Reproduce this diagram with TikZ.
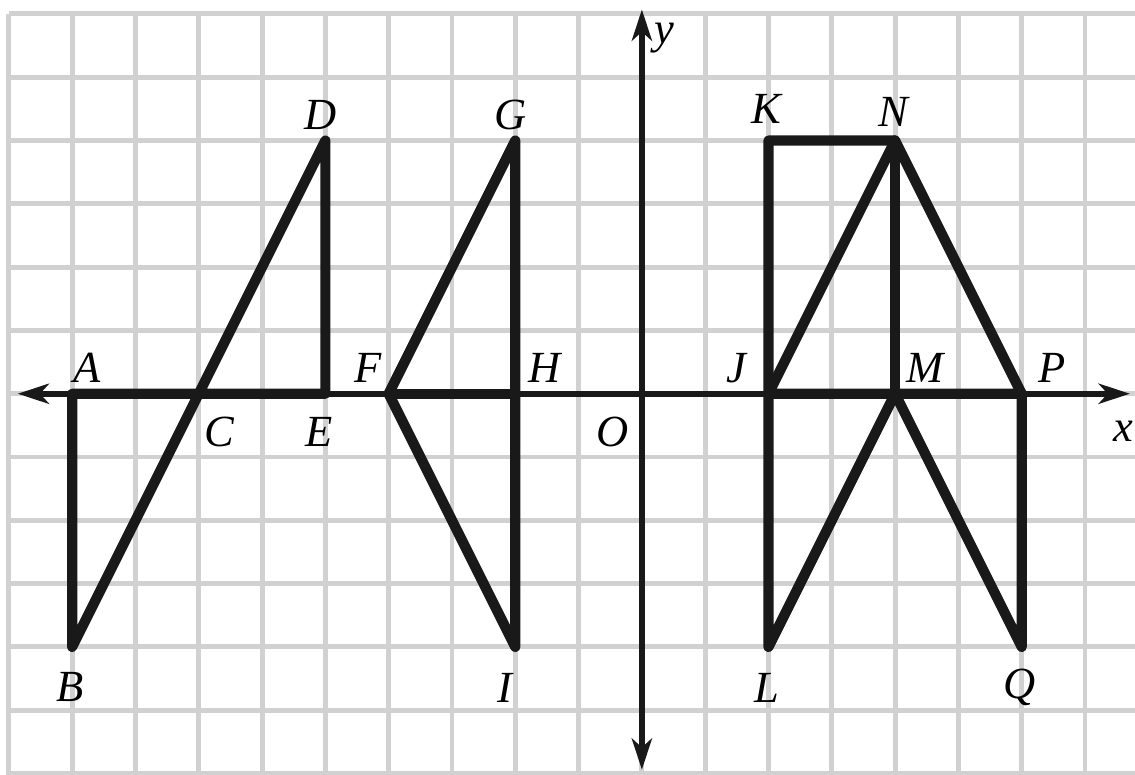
\documentclass[tikz,border=0pt]{standalone}
\usepackage{fontspec}
\setmainfont{Liberation Serif}
\usetikzlibrary{arrows.meta, positioning}

\begin{document}
\begin{tikzpicture}[
    >={Stealth[length=14pt, width=9pt, inset=4pt]},
    gridline/.style={draw=black!18, line width=2.2pt},
    axis/.style={<->, line width=2.8pt, black!90},
    figline/.style={line width=4.6pt, line join=round, line cap=round, black!90},
    lbl/.style={font=\fontsize{20}{24}\selectfont\itshape, inner sep=0pt}
  ]
  \useasboundingbox (-10.14,-6.02) rectangle (7.79,6.22);

  % Grid
  \draw[gridline] (-10,-6.02) grid (7.79,6);

  % Points
  \coordinate (A) at (-9,0);  \coordinate (B) at (-9,-4);
  \coordinate (C) at (-7,0);  \coordinate (D) at (-5,4);
  \coordinate (E) at (-5,0);  \coordinate (F) at (-4,0);
  \coordinate (G) at (-2,4);  \coordinate (H) at (-2,0);
  \coordinate (I) at (-2,-4); \coordinate (O) at (0,0);
  \coordinate (J) at (2,0);   \coordinate (K) at (2,4);
  \coordinate (L) at (2,-4);  \coordinate (M) at (4,0);
  \coordinate (N) at (4,4);   \coordinate (P) at (6,0);
  \coordinate (Q) at (6,-4);

  % Axes
  \coordinate (xl) at (-9.86,0); \coordinate (xr) at (7.71,0);
  \coordinate (yb) at (0,-5.94); \coordinate (yt) at (0,6.07);
  \draw[axis] (xl) -- (xr);
  \draw[axis] (yb) -- (yt);

  % Figures
  \draw[figline] (A) -- (B) -- (D) -- (E) -- cycle;
  \draw[figline] (F) -- (G) -- (I) -- cycle;
  \draw[figline] (F) -- (H);
  \draw[figline] (K) -- (N) -- (P) -- (Q) -- (M) -- (L) -- cycle;
  \draw[figline] (N) -- (J) -- (P);
  \draw[figline] (N) -- (M);

  % Labels
  \node[lbl] (lA) at (-8.77,0.41) {A};
  \node[lbl] (lB) at (-9.03,-4.64) {B};
  \node[lbl] (lC) at (-6.67,-0.6) {C};
  \node[lbl] (lD) at (-5.08,4.4) {D};
  \node[lbl] (lE) at (-5.1,-0.6) {E};
  \node[lbl] (lF) at (-4.33,0.41) {F};
  \node[lbl] (lG) at (-2.08,4.4) {G};
  \node[lbl] (lH) at (-1.53,0.41) {H};
  \node[lbl] (lI) at (-2.16,-4.64) {I};
  \node[lbl] (lO) at (-0.47,-0.6) {O};
  \node[lbl] (lJ) at (1.5,0.41) {J};
  \node[lbl] (lK) at (1.96,4.5) {K};
  \node[lbl] (lN) at (3.97,4.45) {N};
  \node[lbl] (lM) at (4.47,0.41) {M};
  \node[lbl] (lP) at (6.48,0.41) {P};
  \node[lbl] (lL) at (1.97,-4.64) {L};
  \node[lbl] (lQ) at (5.97,-4.64) {Q};
  \node[lbl] (lx) at (7.6,-0.6) {x};
  \node[lbl] (ly) at (0.36,5.62) {y};
\end{tikzpicture}
\end{document}
